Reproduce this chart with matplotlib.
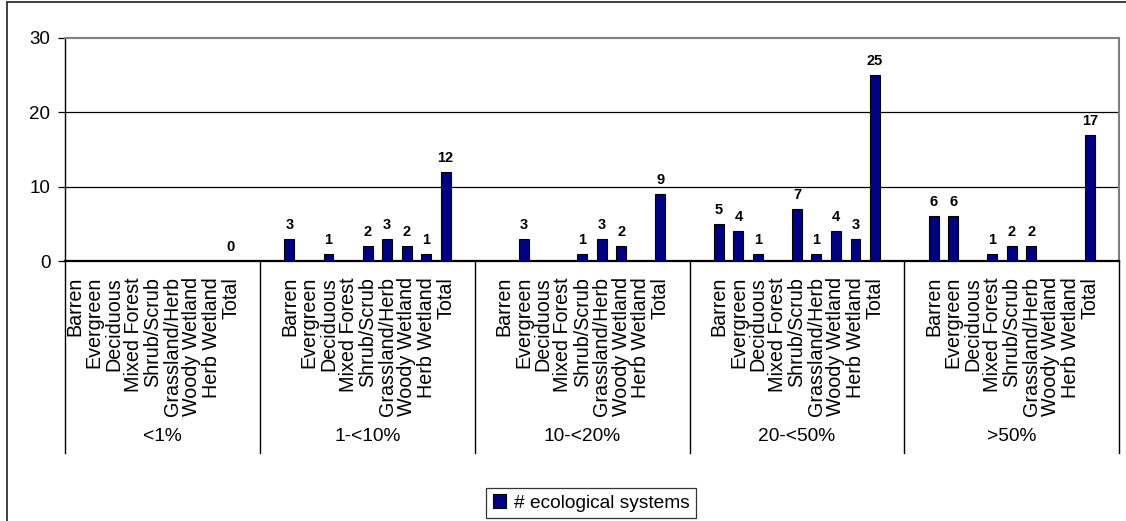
import numpy as np
import matplotlib
matplotlib.use("Agg")
import matplotlib.pyplot as plt
from matplotlib.patches import Rectangle
import matplotlib.transforms as mtransforms

plt.rcParams['font.family'] = ['Liberation Sans', 'DejaVu Sans']

# cover classes and land cover types (None = no bar drawn)
groups = ["<1%", "1-<10%", "10-<20%", "20-<50%", ">50%"]
cover_types = ["Barren", "Evergreen", "Deciduous", "Mixed Forest", "Shrub/Scrub",
               "Grassland/Herb", "Woody Wetland", "Herb Wetland", "Total"]
vals_lt1 = [None, None, None, None, None, None, None, None, 0]
vals_1_10 = [3, None, 1, None, 2, 3, 2, 1, 12]
vals_10_20 = [None, 3, None, None, 1, 3, 2, None, 9]
vals_20_50 = [5, 4, 1, None, 7, 1, 4, 3, 25]
vals_gt50 = [6, 6, None, 1, 2, 2, None, None, 17]
series_name = "# ecological systems"

all_vals = [vals_lt1, vals_1_10, vals_10_20, vals_20_50, vals_gt50]
# empty category slots before each group's first type, and after its last
lead_blank = [0, 1, 1, 1, 1]
trail_blank = [1, 1, 1, 1, 1]

fig = plt.figure(figsize=(11.26, 5.21), dpi=100)
ax = fig.add_axes([65 / 1126, 1 - 261 / 521, (1119 - 65) / 1126, (261 - 38) / 521])

# work out slot positions
pos = 0
xs, hs, labs = [], [], []
edges = [0]
group_mid = []
for g, vals in enumerate(all_vals):
    start = pos
    pos += lead_blank[g]
    for c, v in enumerate(vals):
        xc = pos + 0.5
        labs.append((xc, cover_types[c]))
        if v is not None:
            xs.append(xc)
            hs.append(v)
        pos += 1
    pos += trail_blank[g]
    edges.append(pos)
    group_mid.append((start + pos) / 2)

bars = ax.bar(xs, hs, width=0.51, color="#000080", edgecolor="black", linewidth=0.8, zorder=3)
for x, h in zip(xs, hs):
    ax.annotate(str(h), (x, h), xytext=(0, 5), textcoords="offset points",
                ha="center", va="bottom", fontsize=10.5, fontweight="bold")

ax.set_xlim(0, pos)
ax.set_ylim(0, 30)
ax.set_yticks([0, 10, 20, 30])
ax.set_xticks([])
ax.tick_params(axis="y", direction="out", length=5, width=0.9, pad=5.5, labelsize=13.5)
for y in [10, 20]:
    ax.axhline(y, color="black", linewidth=0.9, zorder=1)

ax.spines["top"].set_color("#808080")
ax.spines["top"].set_linewidth(1.5)
ax.spines["right"].set_color("#808080")
ax.spines["right"].set_linewidth(1.5)
ax.spines["left"].set_linewidth(1.0)
ax.spines["bottom"].set_linewidth(1.6)

# category axis: rotated type labels, group labels and separators
trans = mtransforms.blended_transform_factory(ax.transData, ax.transAxes)
for xc, name in labs:
    ax.annotate(name, (xc, 0), xycoords=trans, xytext=(0, -11.5), textcoords="offset points",
                rotation=90, ha="center", va="top", fontsize=14.2, annotation_clip=False)
for xm, name in zip(group_mid, groups):
    ax.annotate(name, (xm, 0), xycoords=trans, xytext=(0, -126.5), textcoords="offset points",
                ha="center", va="center", fontsize=13.8, annotation_clip=False)
sep_len = (453 - 261) / (261 - 38)
for e in edges:
    ax.plot([e, e], [0, -sep_len], transform=trans, color="black", linewidth=1.0, clip_on=False)

leg = fig.legend([bars], [series_name], loc="upper center",
                 bbox_to_anchor=(591 / 1126, 1 - 478 / 521), fontsize=13.8,
                 frameon=True, fancybox=False, edgecolor="black", handlelength=0.7,
                 handleheight=0.7, handletextpad=0.4, borderpad=0.35)
leg.get_frame().set_linewidth(0.9)

# outer chart frame (runs off the right and bottom edges)
fig.patches.append(Rectangle((7 / 1126, -0.05), 1.2, 1 - 2 / 521 + 0.05, transform=fig.transFigure,
                             fill=False, edgecolor="#303030", linewidth=1.3))

fig.savefig("out.png", dpi=100)
